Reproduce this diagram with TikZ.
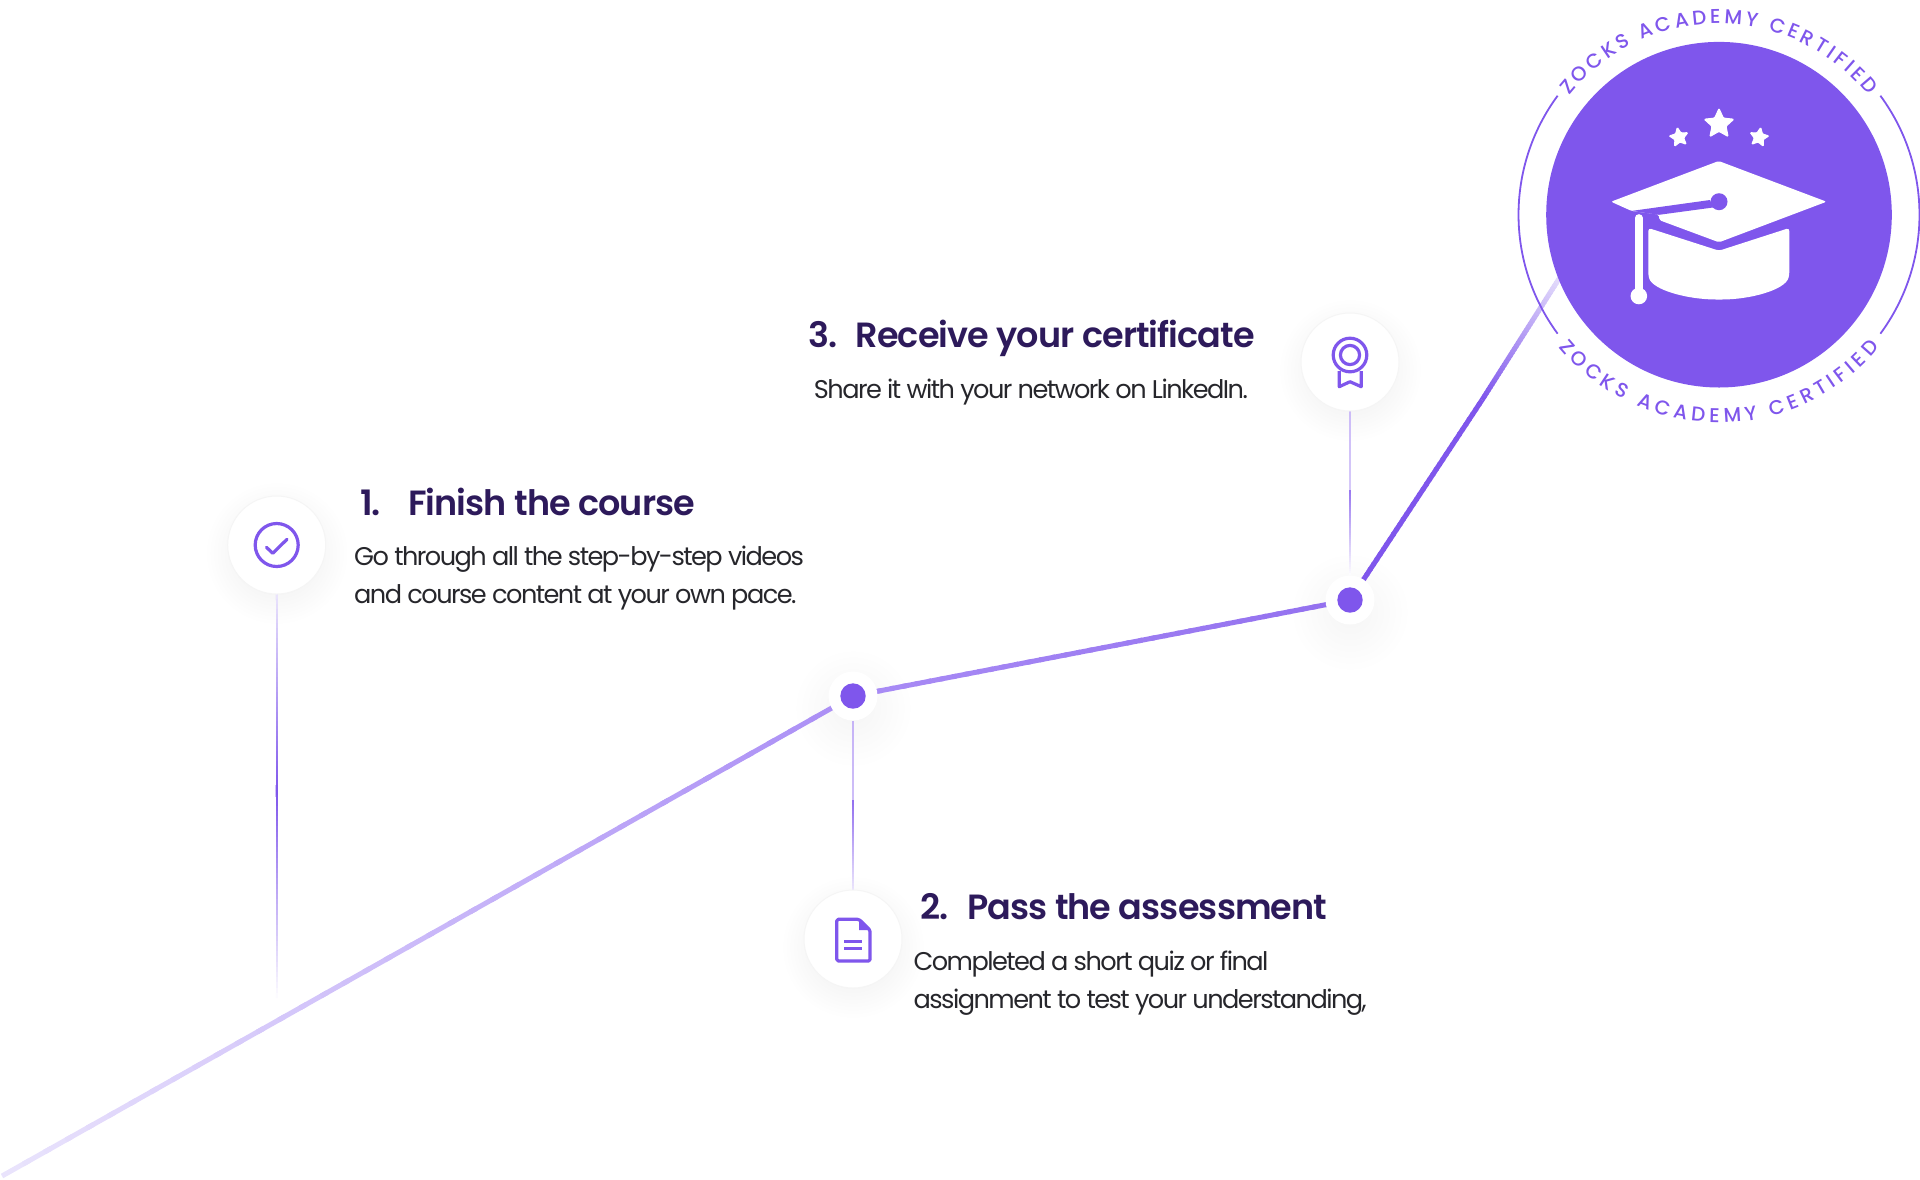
\documentclass[tikz,border=0pt]{standalone}
\usepackage{fontspec}
\setmainfont{Poppins}[LetterSpace=-6]
\newfontfamily\titlefont{Poppins SemiBold}[LetterSpace=-2.6]
\newfontfamily\badgefont{Poppins Medium}
\usetikzlibrary{positioning,calc,backgrounds,shapes.geometric,decorations.text}

\definecolor{zviolet}{HTML}{7F56EC}
\definecolor{zmid}{HTML}{A98CF5}
\definecolor{zpale}{HTML}{E9E3FC}
\definecolor{ztitle}{HTML}{2D1A5B}
\definecolor{zbody}{HTML}{26262B}

% colour runs along the line, in short pieces
\newcommand{\fadeline}[5]{%
    \foreach \k [evaluate=\k as \m using 100*\k/40] in {0,...,39}{
        \draw[line width=#5, draw={#4!\m!#3}]
            ($(#1)!{\k/40}!(#2)$) -- ($(#1)!{min((\k+1.3)/40,1)}!(#2)$);
    }%
}

\begin{document}
\begin{tikzpicture}[
        x=1pt, y=-1pt,
        iconbox/.style={
            circle,
            draw=black!4,
            line width=1pt,
            fill=white,
            inner sep=0pt,
            outer sep=0pt,
            minimum size=98pt
        },
        halo/.style={
            circle,
            fill=white,
            inner sep=0pt,
            outer sep=0pt,
            minimum size=49pt
        },
        dotmark/.style={
            circle,
            fill=zviolet,
            inner sep=0pt,
            minimum size=25.4pt
        },
        stepnum/.style={
            anchor=base west,
            inner sep=0pt,
            text=ztitle,
            font=\fontsize{35}{40}\selectfont\titlefont
        },
        steptitle/.style={
            anchor=base west,
            inner sep=0pt,
            text=ztitle,
            font=\fontsize{35}{40}\selectfont\titlefont
        },
        stepdesc/.style={
            anchor=base west,
            inner sep=0pt,
            text=zbody,
            font=\fontsize{25.6}{38.3}\selectfont
        },
        iconline/.style={
            draw=zviolet,
            line width=3.2pt,
            line join=round,
            line cap=round
        },
        capstar/.style={
            star,
            star points=5,
            star point ratio=2.1,
            fill=white,
            draw=white,
            line width=1pt,
            rounded corners=1pt,
            inner sep=0pt,
            outer sep=0pt
        },
        ringarc/.style={draw=zviolet, line width=1.8pt},
        ringtext/.style={
            decorate,
            decoration={
                text along path,
                text align={fit to path},
                text={|\badgefont\fontsize{20}{20}\selectfont\color{zviolet}|ZOCKS ACADEMY CERTIFIED}
            }
        }
    ]
    \useasboundingbox (0,0) rectangle (1920,1179);

    % Steps
    \node[iconbox] (finish) at (276.7,545) {};
    \node[iconbox] (pass) at (853,939) {};
    \node[iconbox] (receive) at (1350,362) {};

    % Dots
    \node[halo] (haloA) at (853,696) {};
    \node[dotmark] (dotA) at (haloA) {};
    \node[halo] (haloB) at (1350,600) {};
    \node[dotmark] (dotB) at (haloB) {};

    % Badge
    \node[circle, fill=zviolet, inner sep=0pt, minimum size=345.6pt] (badge) at (1719,214.7) {};
    \draw[ringarc] ([shift={(badge.center)}]143.6:200.5pt) arc (143.6:216.4:200.5pt);
    \draw[ringarc] ([shift={(badge.center)}]36.4:200.5pt) arc (36.4:-36.4:200.5pt);
    \path[ringtext] ([shift={(badge.center)}]141.5:191pt) arc (141.5:38.5:191pt);
    \path[ringtext] ([shift={(badge.center)}]219.5:208pt) arc (219.5:320.5:208pt);

    % Free ends and turning points of the lines
    \coordinate (start) at (2,1176);
    \coordinate (nearbadge) at (1562,274);
    \coordinate (turnC) at (1482,400);
    \coordinate (finishmid) at (276.7,790);
    \coordinate (finishend) at (276.7,998);
    \coordinate (passmid) at (853,800);
    \coordinate (receivemid) at (1350,490);
    \coordinate (receiveend) at (1350,575);

    \begin{scope}[on background layer]
        \foreach \n in {finish,pass,receive}{
            \shade[inner color=black!8, outer color=white] ([yshift=-8pt]\n.center) circle (72pt);
        }
        \foreach \n in {haloA,haloB}{
            \shade[inner color=black!4, outer color=white] ([yshift=-12pt]\n.center) circle (60pt);
        }
        \fadeline{start}{haloA}{zpale}{zmid}{5pt}
        \fadeline{haloA}{haloB}{zmid}{zviolet!85!white}{5pt}
        \fadeline{haloB}{turnC}{zviolet}{zviolet}{5pt}
        \fadeline{turnC}{nearbadge}{zviolet}{zpale}{5pt}
        \fadeline{finish.south}{finishmid}{zpale}{zviolet}{2.4pt}
        \fadeline{finishmid}{finishend}{zviolet}{white}{2.4pt}
        \fadeline{haloA.south}{passmid}{zviolet!45!white}{zviolet!85!white}{2.4pt}
        \fadeline{passmid}{pass.north}{zviolet!85!white}{zpale}{2.4pt}
        \fadeline{receive.south}{receivemid}{zviolet!40!white}{zviolet!80!white}{2.4pt}
        \fadeline{receivemid}{receiveend}{zviolet!80!white}{white}{2.4pt}
    \end{scope}

    % Step texts
    \node[stepnum] (finishnum) at (360,515) {1.};
    \node[steptitle] (finishtitle) at (408,515) {Finish the course};
    \node[stepdesc, align=left] (finishdesc) at (354,603.3) {Go through all the step-by-step videos\\and course content at your own pace.};

    \node[stepnum] (passnum) at (920.5,919.3) {2.};
    \node[steptitle] (passtitle) at (967,919.3) {Pass the assessment};
    \node[stepdesc, align=left] (passdesc) at (913.4,1008.3) {Completed a short quiz or final\\assignment to test your understanding,};

    \node[stepnum] (receivenum) at (808.4,347.3) {3.};
    \node[steptitle] (receivetitle) at (855.5,347.3) {Receive your certificate};
    \node[stepdesc] (receivedesc) at (813.7,398.3) {Share it with your network on LinkedIn.};

    % Check icon
    \draw[iconline] (finish) circle (21.5pt);
    \draw[iconline] (266.5,547.3) -- (272.7,553.3) -- (287,539.3);

    % File icon
    \draw[iconline, rounded corners=1.5pt] (859,919.3) -- (836.8,919.3) -- (836.8,961) -- (870,961) -- (870,930) -- cycle;
    \fill[zviolet] (859,919.3) -- (859,930) -- (870,930) -- cycle;
    \draw[iconline, line cap=butt] (844.4,941.7) -- (861.8,941.7);
    \draw[iconline, line cap=butt] (844.4,948.6) -- (861.8,948.6);

    % Ribbon icon
    \draw[iconline] (1350,355) circle (16.8pt);
    \draw[iconline] (1350,355) circle (9.6pt);
    \draw[iconline, line cap=butt] (1339.2,371) -- (1339.2,386.7) -- (1350,381.7) -- (1361.2,386.7) -- (1361.2,371);

    % Cap
    \node[capstar, minimum size=31pt] (starmid) at (1719,124) {};
    \node[capstar, minimum size=20pt, rotate=10] (starleft) at (1679,137.3) {};
    \node[capstar, minimum size=20pt, rotate=-10] (starright) at (1759,137.3) {};
    \fill[white, rounded corners=2pt] (1718.7,161) -- (1826.5,201.7) -- (1719,242.3) -- (1659,220) -- (1659,214.5) -- (1631.7,211) -- (1611,201.7) -- cycle;
    \fill[zviolet] (1631.7,210.9) -- (1710,200) -- (1713,207.5) -- (1659,214.8) -- cycle;
    \fill[zviolet] (1719,201.7) circle (8.5pt);
    \fill[white, rounded corners=3pt] (1648.3,228) -- (1719,250.7) -- (1789.3,228) -- (1789.3,275)
        .. controls (1785,290) and (1750,299.5) .. (1719,299.5)
        .. controls (1688,299.5) and (1652,290) .. (1648.3,275) -- cycle;
    \draw[white, line width=7.7pt, line cap=round] (1638.8,218) -- (1638.8,290);
    \fill[white] (1638.8,296) circle (8.3pt);
\end{tikzpicture}
\end{document}
